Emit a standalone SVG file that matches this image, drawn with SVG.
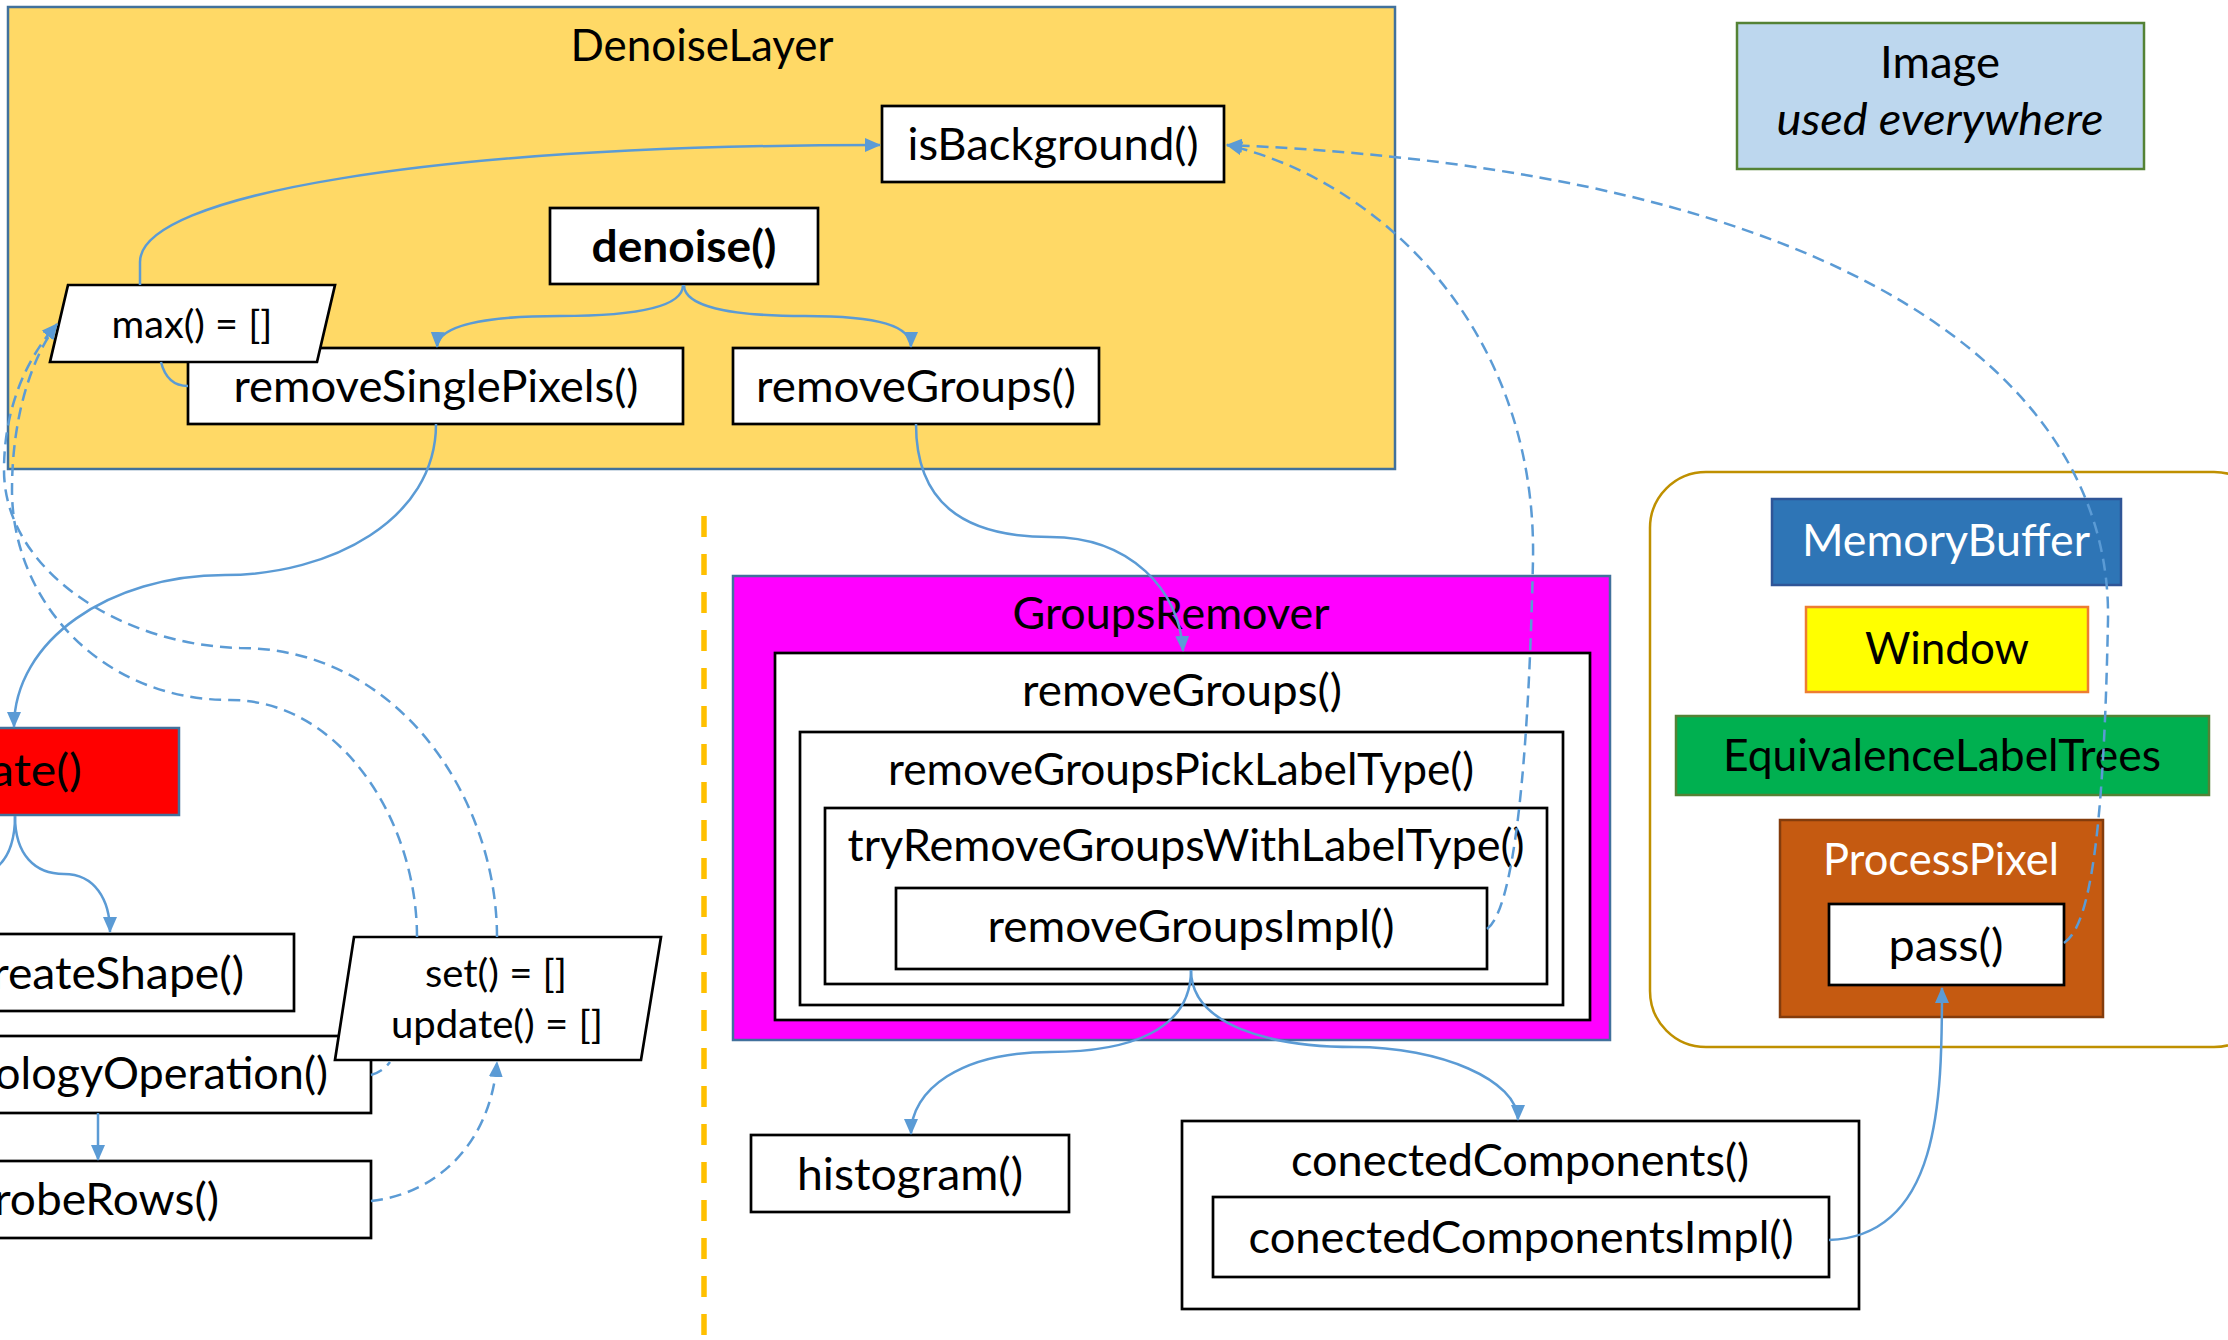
<svg xmlns="http://www.w3.org/2000/svg" width="2228" height="1340" viewBox="0 0 2228 1340">
  <defs>
    <marker id="arrow" markerUnits="userSpaceOnUse" markerWidth="16" markerHeight="14" viewBox="0 0 16 14" refX="15" refY="7" orient="auto">
      <path d="M0,0 L16,7 L0,14 z" fill="#5B9BD5"/>
    </marker>
    <style>
      text { font-family: Lato, "Liberation Sans", sans-serif; font-size: 44px; fill: #000; }
      .c { text-anchor: middle; }
      .e { text-anchor: end; }
      .small { font-size: 39px; }
      .bold { font-weight: 700; }
      .ital { font-style: italic; }
      .white { fill: #fff; }
      .box { fill: #fff; stroke: #000; stroke-width: 2.7; }
      .frame { stroke: #41719C; stroke-width: 2.5; }
      .link { fill: none; stroke: #5B9BD5; stroke-width: 2.5; }
      .dash { stroke-dasharray: 12 7; }
    </style>
  </defs>

  <rect x="0" y="0" width="2228" height="1340" fill="#fff"/>

  <!-- DenoiseLayer container and its methods -->
  <g id="denoise-layer">
    <rect class="frame" x="8" y="7" width="1387" height="462" fill="#FFD966"/>
    <text class="c" x="702" y="61" textLength="263" lengthAdjust="spacingAndGlyphs">DenoiseLayer</text>
  </g>
  <g id="is-background">
    <rect class="box" x="882" y="106" width="342" height="76"/>
    <text class="c" x="1053" y="160" textLength="291" lengthAdjust="spacingAndGlyphs">isBackground()</text>
  </g>
  <g id="denoise">
    <rect class="box" x="550" y="208" width="268" height="76"/>
    <text class="c bold" x="684" y="262" textLength="185" lengthAdjust="spacingAndGlyphs">denoise()</text>
  </g>
  <g id="remove-single-pixels">
    <rect class="box" x="188" y="348" width="495" height="76"/>
    <text class="c" x="436" y="402" textLength="405" lengthAdjust="spacingAndGlyphs">removeSinglePixels()</text>
  </g>
  <g id="max">
    <polygon class="box" points="68,285 335,285 317,362 50,362"/>
    <text class="c small" x="192" y="338" textLength="161" lengthAdjust="spacingAndGlyphs">max() = []</text>
  </g>
  <g id="remove-groups">
    <rect class="box" x="733" y="348" width="366" height="76"/>
    <text class="c" x="916" y="402" textLength="320" lengthAdjust="spacingAndGlyphs">removeGroups()</text>
  </g>

  <!-- GroupsRemover with its nested calls -->
  <g id="groups-remover">
    <rect class="frame" x="733" y="576" width="877" height="464" fill="#FF00FF"/>
    <text class="c" x="1171" y="629" textLength="317" lengthAdjust="spacingAndGlyphs">GroupsRemover</text>
    <g id="gr-remove-groups">
      <rect class="box" x="775" y="653" width="815" height="367"/>
      <text class="c" x="1182" y="706" textLength="320" lengthAdjust="spacingAndGlyphs">removeGroups()</text>
    </g>
    <g id="gr-pick-label-type">
      <rect class="box" x="800" y="732" width="763" height="273"/>
      <text class="c" x="1181" y="785" textLength="586" lengthAdjust="spacingAndGlyphs">removeGroupsPickLabelType()</text>
    </g>
    <g id="gr-try-remove">
      <rect class="box" x="825" y="808" width="722" height="176"/>
      <text class="c" x="1186" y="861" textLength="677" lengthAdjust="spacingAndGlyphs">tryRemoveGroupsWithLabelType()</text>
    </g>
    <g id="gr-impl">
      <rect class="box" x="896" y="888" width="591" height="81"/>
      <text class="c" x="1191" y="942" textLength="407" lengthAdjust="spacingAndGlyphs">removeGroupsImpl()</text>
    </g>
  </g>

  <g id="histogram">
    <rect class="box" x="751" y="1135" width="318" height="77"/>
    <text class="c" x="910" y="1190" textLength="226" lengthAdjust="spacingAndGlyphs">histogram()</text>
  </g>
  <g id="conected-components">
    <rect class="box" x="1182" y="1121" width="677" height="188"/>
    <text class="c" x="1520" y="1176" textLength="458" lengthAdjust="spacingAndGlyphs">conectedComponents()</text>
    <g id="conected-components-impl">
      <rect class="box" x="1213" y="1197" width="616" height="80"/>
      <text class="c" x="1521" y="1253" textLength="545" lengthAdjust="spacingAndGlyphs">conectedComponentsImpl()</text>
    </g>
  </g>

  <!-- Shared types -->
  <g id="image">
    <rect x="1737" y="23" width="407" height="146" fill="#BDD7EE" stroke="#548235" stroke-width="2.5"/>
    <text class="c" x="1940" y="78" textLength="120" lengthAdjust="spacingAndGlyphs">Image</text>
    <text class="c ital" x="1940" y="135" textLength="327" lengthAdjust="spacingAndGlyphs">used everywhere</text>
  </g>
  <g id="helpers">
    <rect x="1650" y="472" width="620" height="575" rx="56" ry="56" fill="none" stroke="#BF9000" stroke-width="2.5"/>
  </g>
  <g id="memory-buffer">
    <rect x="1772" y="499" width="349" height="86" fill="#2E75B6" stroke="#2F5597" stroke-width="2.5"/>
    <text class="c white" x="1946" y="556" textLength="288" lengthAdjust="spacingAndGlyphs">MemoryBuffer</text>
  </g>
  <g id="window">
    <rect x="1806" y="607" width="282" height="85" fill="#FFFF00" stroke="#ED7D31" stroke-width="2.5"/>
    <text class="c" x="1947" y="664" textLength="164" lengthAdjust="spacingAndGlyphs">Window</text>
  </g>
  <g id="equivalence-label-trees">
    <rect x="1676" y="716" width="533" height="79" fill="#00B050" stroke="#548235" stroke-width="2.5"/>
    <text class="c" x="1942" y="771" textLength="438" lengthAdjust="spacingAndGlyphs">EquivalenceLabelTrees</text>
  </g>
  <g id="process-pixel">
    <rect x="1780" y="820" width="323" height="197" fill="#C55A11" stroke="#843C0C" stroke-width="2.5"/>
    <text class="c white" x="1941" y="875" textLength="236" lengthAdjust="spacingAndGlyphs">ProcessPixel</text>
    <g id="pass">
      <rect class="box" x="1829" y="904" width="235" height="81"/>
      <text class="c" x="1946" y="961" textLength="115" lengthAdjust="spacingAndGlyphs">pass()</text>
    </g>
  </g>

  <!-- Left column, cut by the page edge -->
  <g id="operate">
    <rect class="frame" x="-20" y="728" width="199" height="87" fill="#FF0000"/>
    <text class="e" x="82" y="786" textLength="92" lengthAdjust="spacingAndGlyphs">ate()</text>
  </g>
  <g id="create-shape">
    <rect class="box" x="-20" y="934" width="314" height="77"/>
    <text class="e" x="244" y="989" textLength="252" lengthAdjust="spacingAndGlyphs">reateShape()</text>
  </g>
  <g id="morphology-operation">
    <rect class="box" x="-20" y="1036" width="391" height="77"/>
    <text class="e" x="328" y="1089" textLength="333" lengthAdjust="spacingAndGlyphs">ologyOperation()</text>
  </g>
  <g id="probe-rows">
    <rect class="box" x="-20" y="1161" width="391" height="77"/>
    <text class="e" x="219" y="1215" textLength="225" lengthAdjust="spacingAndGlyphs">robeRows()</text>
  </g>
  <g id="set-update">
    <polygon class="box" points="354,937 661,937 641,1060 335,1060"/>
    <text class="c small" x="496" y="987" textLength="142" lengthAdjust="spacingAndGlyphs">set() = []</text>
    <text class="c small" x="497" y="1038" textLength="212" lengthAdjust="spacingAndGlyphs">update() = []</text>
  </g>

  <!-- Separator -->
  <g id="separator">
    <line x1="704" y1="516" x2="704" y2="1340" stroke="#FFC000" stroke-width="5.5" stroke-dasharray="21 17"/>
  </g>

  <!-- Calls (solid) and data access (dashed) -->
  <g id="connectors">
    <path class="link" d="M683,285 C683,306 640,316 560,316 C482,316 438,326 437,347" marker-end="url(#arrow)"/>
    <path class="link" d="M684,285 C684,306 728,316 805,316 C880,316 911,326 911,347" marker-end="url(#arrow)"/>
    <path class="link" d="M140,285 L140,262 C140,195 430,145 880,145" marker-end="url(#arrow)"/>
    <path class="link" d="M161,362 C165,378 174,386 188,386"/>
    <path class="link" d="M436,424 C436,520 330,575 225,575 C110,575 14,640 14,727" marker-end="url(#arrow)"/>
    <path class="link" d="M916,424 C916,500 960,537 1050,537 C1130,537 1180,590 1183,651" marker-end="url(#arrow)"/>
    <path class="link" d="M1191,970 C1191,1030 1130,1052 1050,1052 C960,1052 911,1090 911,1134" marker-end="url(#arrow)"/>
    <path class="link" d="M1191,970 C1191,1025 1270,1047 1354,1047 C1440,1047 1518,1080 1518,1120" marker-end="url(#arrow)"/>
    <path class="link" d="M1829,1240 C1940,1236 1942,1100 1942,988" marker-end="url(#arrow)"/>
    <path class="link" d="M15,816 C15,855 35,874 64,874 C95,874 110,900 110,932" marker-end="url(#arrow)"/>
    <path class="link" d="M15,816 C15,842 8,862 -10,872"/>
    <path class="link" d="M98,1113 L98,1160" marker-end="url(#arrow)"/>

    <path class="link dash" d="M1487,929 C1520,905 1530,700 1533,560 C1537,330 1380,180 1227,145" marker-end="url(#arrow)"/>
    <path class="link dash" d="M2064,943 C2092,925 2104,820 2108,620 C2112,380 1850,170 1227,145" marker-end="url(#arrow)"/>
    <path class="link dash" d="M497,937 C497,800 400,648 240,648 C120,645 4,570 4,470 C4,410 25,360 57,324" marker-end="url(#arrow)"/>
    <path class="link dash" d="M417,937 C417,820 340,700 230,700 C100,700 12,600 12,490 C12,420 30,360 57,324" marker-end="url(#arrow)"/>
    <path class="link dash" d="M371,1201 C430,1195 490,1150 497,1062" marker-end="url(#arrow)"/>
    <path class="link dash" d="M371,1075 C378,1073 385,1069 390,1062"/>
  </g>
</svg>
